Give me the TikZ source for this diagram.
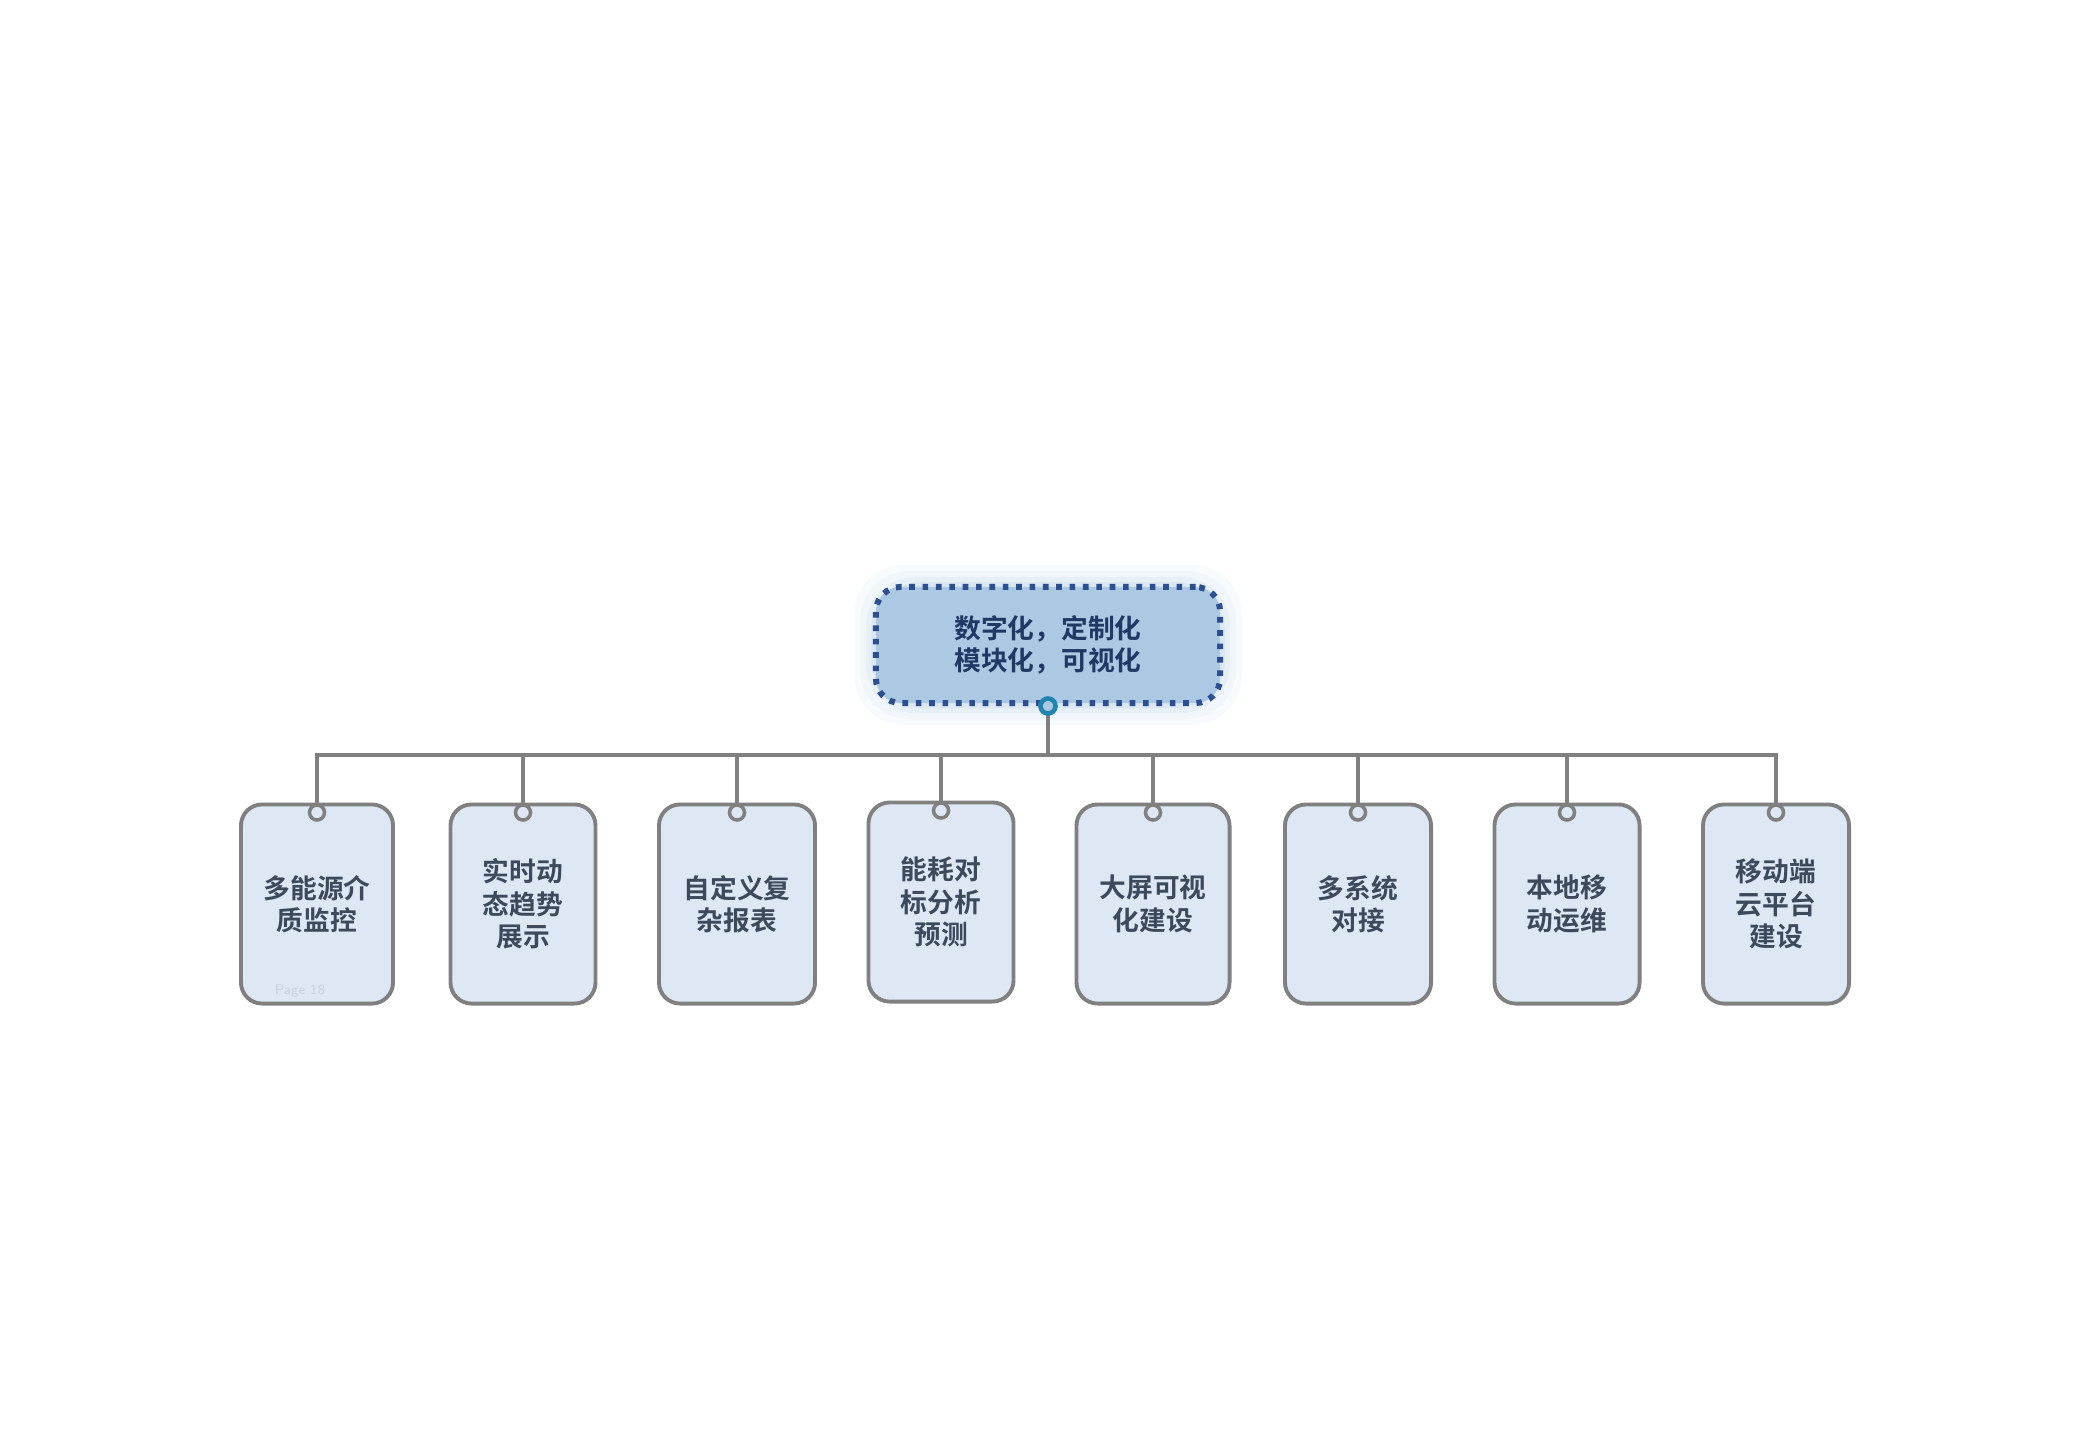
\documentclass[tikz,border=0pt]{standalone}
\usepackage{fontspec}
\newfontfamily\cjk{Noto Sans CJK SC Bold}
\definecolor{leaffill}{HTML}{DDE8F4}
\definecolor{linegray}{HTML}{808080}
\definecolor{rootfill}{HTML}{ABC9E3}
\definecolor{rootline}{HTML}{2E4F8F}
\definecolor{leaftext}{HTML}{3D4A5C}
\definecolor{roottext}{HTML}{1F3864}
\begin{document}
\begin{tikzpicture}[x=0.01cm,y=-0.01cm,
                leaf/.style={rectangle,rounded corners=6pt,draw=linegray,fill=leaffill,line width=1.1pt,
                inner sep=0pt,minimum height=1.99cm,align=center,text=leaftext,font=\cjk\fontsize{7.6}{9.2}\selectfont},
                root/.style={rectangle,rounded corners=7pt,draw=rootline,fill=rootfill,line width=1.7pt,
                dash pattern=on 1.6pt off 2.2pt,inner sep=0pt,minimum width=3.44cm,minimum height=1.16cm,
                align=center,text=roottext,font=\cjk\fontsize{7.6}{9.2}\selectfont},
                knob/.style={circle,draw=linegray,fill=leaffill,line width=1pt,inner sep=0pt,minimum size=0.15cm},
                link/.style={draw=linegray,line width=1.1pt}]
                \useasboundingbox (0,0) rectangle (2080,1440);
                % glow
                \foreach \g/\o in {22/0.08,16/0.1,10/0.14,5/0.2}
                  \fill[rootfill,opacity=\o,rounded corners=14pt] (876-\g,587-\g) rectangle (1220+\g,703+\g);
                \node (r) at (1048,645) [root] {数字化，定制化\\模块化，可视化};
                \node (c1) at (317,904) [leaf,minimum width=1.52cm] {多能源介\\质监控};
                \node (c2) at (523,904) [leaf,minimum width=1.45cm] {实时动\\态趋势\\展示};
                \node (c3) at (737,904) [leaf,minimum width=1.56cm] {自定义复\\杂报表};
                \node (c4) at (941,902) [leaf,minimum width=1.45cm] {能耗对\\标分析\\预测};
                \node (c5) at (1153,904) [leaf,minimum width=1.53cm] {大屏可视\\化建设};
                \node (c6) at (1358,904) [leaf,minimum width=1.46cm] {多系统\\对接};
                \node (c7) at (1567,904) [leaf,minimum width=1.45cm] {本地移\\动运维};
                \node (c8) at (1776,904) [leaf,minimum width=1.46cm] {移动端\\云平台\\建设};
                \node (pg) at (300,991) [text=leaffill!80!gray,font=\sffamily\fontsize{4}{4}\selectfont] {Page 18};
                \coordinate (bus) at (1048,755);
                \draw[link] (r.south) -- (bus);
                \foreach \i in {1,...,8}
                  \draw[link] (bus) -| (c\i.north);
                \node (k0) at (r.south) [knob,draw=rootline!70!cyan,fill=rootfill,line width=1.3pt] {};
                \foreach \i in {1,...,8}
                  \node (k\i) at (c\i.north) [knob,yshift=-0.1cm] {};
            \end{tikzpicture}
\end{document}
